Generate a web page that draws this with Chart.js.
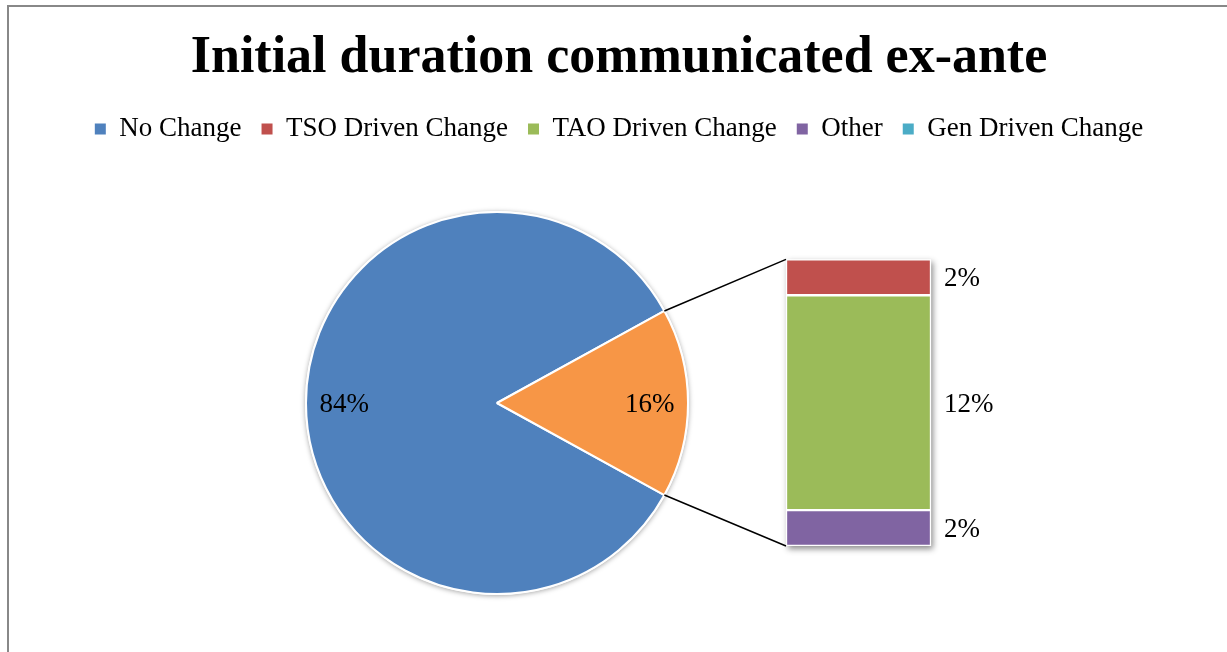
<!DOCTYPE html>
<html><head><meta charset="utf-8">
<script src="https://cdn.jsdelivr.net/npm/chart.js@4.4.1/dist/chart.umd.min.js"></script>
<style>
html,body{margin:0;padding:0;background:#fff;overflow:hidden;width:1227px;height:652px;}
#frame{position:absolute;left:7px;top:5px;width:1400px;height:800px;border-left:2px solid #888;border-top:2px solid #888;}
canvas{position:absolute;left:0;top:0;}
</style></head><body>
<div id="frame"></div>
<canvas id="bar" width="1227" height="652"></canvas>
<canvas id="pie" width="1227" height="652"></canvas>
<script>
const chartTitle = 'Initial duration communicated ex-ante';
const pieLabels = ['No Change', 'Changed'];
const pieValues = [84, 16];
const pieColors = ['#4F81BD', '#F79646'];
const barLabels = ['TSO Driven Change', 'TAO Driven Change', 'Other', 'Gen Driven Change'];
const barValues = [2, 12, 2, 0];
const barColors = ['#C0504D', '#9BBB59', '#8064A2', '#4BACC6'];
const legendLabels = ['No Change', 'TSO Driven Change', 'TAO Driven Change', 'Other', 'Gen Driven Change'];
const legendColors = ['#4F81BD', '#C0504D', '#9BBB59', '#8064A2', '#4BACC6'];

const SERIF = "'Liberation Serif', 'Times New Roman', serif";
const barTotal = barValues.reduce((a, b) => a + b, 0);
const pieTotal = pieValues.reduce((a, b) => a + b, 0);

// stacked bar: bottom of stack is the last category
const barDatasets = [];
for (let i = barLabels.length - 1; i >= 0; i--) {
  if (barValues[i] > 0) {
    barDatasets.push({
      label: barLabels[i], data: [barValues[i]],
      backgroundColor: barColors[i], borderColor: '#ffffff', borderWidth: 1.5,
      borderSkipped: false, barThickness: 145
    });
  }
}

const barShadow = {
  id: 'barShadow',
  beforeDatasetsDraw(chart) {
    const metas = chart.getSortedVisibleDatasetMetas();
    const bot = metas[0].data[0], top = metas[metas.length - 1].data[0];
    const ctx = chart.ctx;
    ctx.save();
    ctx.shadowColor = 'rgba(0,0,0,0.45)';
    ctx.shadowBlur = 6; ctx.shadowOffsetX = 2; ctx.shadowOffsetY = 3;
    ctx.fillStyle = '#ffffff';
    ctx.fillRect(top.x - top.width / 2, top.y, top.width, bot.base - top.y);
    ctx.restore();
  }
};
const barLabelPlugin = {
  id: 'barLabelPlugin',
  afterDatasetsDraw(chart) {
    const ctx = chart.ctx;
    ctx.save();
    ctx.font = '27px ' + SERIF;
    ctx.fillStyle = '#000';
    ctx.textAlign = 'left'; ctx.textBaseline = 'middle';
    chart.data.datasets.forEach((ds, i) => {
      const el = chart.getDatasetMeta(i).data[0];
      ctx.fillText(ds.data[0] + '%', el.x + el.width / 2 + 13, (el.y + el.base) / 2 + 2);
    });
    ctx.restore();
  }
};

const barChart = new Chart(document.getElementById('bar'), {
  type: 'bar',
  data: { labels: [pieLabels[1]], datasets: barDatasets },
  options: {
    responsive: false, animation: false,
    layout: { padding: { left: 11, right: 0, top: 0, bottom: 106 } },
    plugins: {
      title: { display: true, text: chartTitle, color: '#000',
        font: { family: SERIF, size: 52, weight: 'bold' }, padding: { top: 27, bottom: 6 } },
      legend: { display: true, position: 'top',
        labels: { boxWidth: 11, boxHeight: 11, padding: 20, color: '#000',
          font: { family: SERIF, size: 27 },
          generateLabels: () => legendLabels.map((t, i) => ({
            text: t, fillStyle: legendColors[i], strokeStyle: legendColors[i],
            lineWidth: 0, hidden: false, datasetIndex: i })) } },
      tooltip: { enabled: false }
    },
    scales: {
      x: { stacked: true, position: 'top', ticks: { display: false }, grid: { display: false },
        border: { display: false }, afterFit: s => { s.height = 107; } },
      y: { stacked: true, min: 0, max: barTotal, ticks: { display: false }, grid: { display: false },
        border: { display: false }, afterFit: s => { s.width = 479; } }
    }
  },
  plugins: [barShadow, barLabelPlugin]
});

const pieShadow = {
  id: 'pieShadow',
  beforeDatasetsDraw(chart) {
    const a = chart.getDatasetMeta(0).data[0];
    const ctx = chart.ctx;
    ctx.save();
    ctx.shadowColor = 'rgba(0,0,0,0.35)';
    ctx.shadowBlur = 5; ctx.shadowOffsetY = 1;
    ctx.fillStyle = '#ffffff';
    ctx.beginPath(); ctx.arc(a.x, a.y, a.outerRadius + 1, 0, Math.PI * 2); ctx.fill();
    ctx.restore();
  }
};
const pieLabelPlugin = {
  id: 'pieLabelPlugin',
  afterDatasetsDraw(chart) {
    const ctx = chart.ctx;
    ctx.save();
    ctx.font = '27px ' + SERIF;
    ctx.fillStyle = '#000';
    ctx.textAlign = 'center'; ctx.textBaseline = 'middle';
    chart.getDatasetMeta(0).data.forEach((a, i) => {
      const mid = (a.startAngle + a.endAngle) / 2;
      const r = a.outerRadius * 0.8;
      ctx.fillText(pieValues[i] + '%', a.x + Math.cos(mid) * r, a.y + Math.sin(mid) * r + 2);
    });
    ctx.restore();
  }
};
const connector = {
  id: 'connector',
  afterDraw(chart) {
    const a = chart.getDatasetMeta(0).data[1];
    const R = a.outerRadius;
    const metas = barChart.getSortedVisibleDatasetMetas();
    const bot = metas[0].data[0], top = metas[metas.length - 1].data[0];
    const left = top.x - top.width / 2;
    const ctx = chart.ctx;
    ctx.save();
    ctx.strokeStyle = '#000'; ctx.lineWidth = 1.5;
    ctx.beginPath();
    ctx.moveTo(a.x + Math.cos(a.startAngle) * R, a.y + Math.sin(a.startAngle) * R);
    ctx.lineTo(left, top.y);
    ctx.moveTo(a.x + Math.cos(a.endAngle) * R, a.y + Math.sin(a.endAngle) * R);
    ctx.lineTo(left, bot.base);
    ctx.stroke();
    ctx.restore();
  }
};

new Chart(document.getElementById('pie'), {
  type: 'pie',
  data: { labels: pieLabels, datasets: [{ data: pieValues, backgroundColor: pieColors,
    borderColor: '#ffffff', borderWidth: 2, radius: 191 }] },
  options: {
    responsive: false, animation: false,
    radius: 191,
    rotation: 90 + (pieValues[1] / pieTotal * 360) / 2,
    layout: { padding: { left: 0, right: 233, top: 154, bottom: 0 } },
    plugins: { legend: { display: false }, title: { display: false }, tooltip: { enabled: false } }
  },
  plugins: [pieShadow, pieLabelPlugin, connector]
});
</script>
</body></html>
